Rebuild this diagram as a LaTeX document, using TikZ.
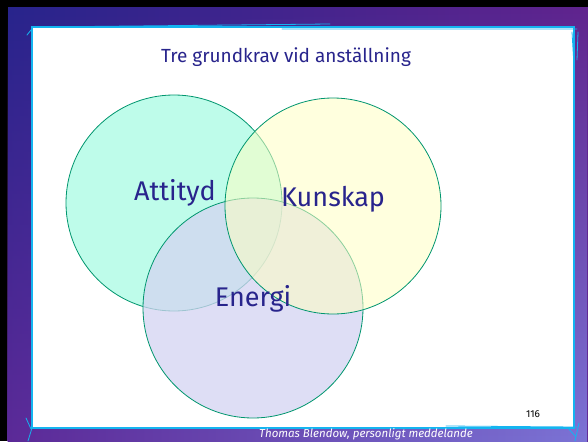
\documentclass[tikz,border=0pt]{standalone}
\usepackage{fontspec}
\setmainfont{Fira Sans}
\usetikzlibrary{fadings}
\definecolor{navy}{RGB}{40,36,140}
\definecolor{ring}{RGB}{0,150,110}
\definecolor{edge}{RGB}{20,180,240}
\definecolor{fillA}{RGB}{190,252,234}
\definecolor{fillK}{RGB}{255,255,195}
\definecolor{fillE}{RGB}{212,212,242}
\definecolor{bgTL}{RGB}{40,36,140}
\definecolor{bgTR}{RGB}{96,36,142}
\definecolor{bgBL}{RGB}{92,42,152}
\definecolor{bgBR}{RGB}{124,116,214}
\tikzset{
  venn/.style={draw=ring, thick},
  label/.style={text=navy, font=\fontsize{27}{27}\selectfont}
}
\begin{document}
\begin{tikzpicture}[x=1pt,y=-1pt]
  \useasboundingbox (0,0) rectangle (588,441);
  % frame and gradient background
  \fill[black] (0,0) rectangle (588,441);
  \shade[left color=bgTL, right color=bgTR] (8,8) rectangle (588,441);
  \shade[left color=bgBL, right color=bgBR, path fading=north] (8,8) rectangle (588,441);
  \fill[white] (32,27) rectangle (574,428);
  \draw[edge, line width=1.2pt] (32,27) -- (574,27) -- (574,428) -- (32,428) -- cycle;
  \draw[edge, line width=0.8pt, line cap=round]
    (27,35) -- (31,30) (36,27) -- (330,24) (282,29) -- (577,29)
    (572,32) -- (574,66) (578,32) -- (577,60)
    (26,418) -- (31,429) (32,428) -- (28,441)
    (446,426) -- (577,427) (568,428) -- (576,437) (579,423) -- (575,441);
  % three overlapping circles
  \fill[fillA] (174,203) circle (108);
  \draw[venn] (174,203) circle (108);
  \fill[fillE, opacity=.75] (253,308) circle (110);
  \draw[venn] (253,308) circle (110);
  \fill[fillK, opacity=.55] (333,206) circle (108);
  \draw[venn] (333,206) circle (108);
  % texts
  \node[text=navy, font=\fontsize{19}{19}\selectfont] (title) at (286,57) {Tre grundkrav vid anställning};
  \node[label] (attityd) at (175,193) {Attityd};
  \node[label] (kunskap) at (333,199) {Kunskap};
  \node[label] (energi) at (253,299) {Energi};
  \node[font=\fontsize{10}{10}\selectfont] (page) at (533,414) {116};
  \node[text=white, font=\itshape\fontsize{11.5}{11.5}\selectfont] (source) at (366,434) {Thomas Blendow, personligt meddelande};
\end{tikzpicture}
\end{document}
